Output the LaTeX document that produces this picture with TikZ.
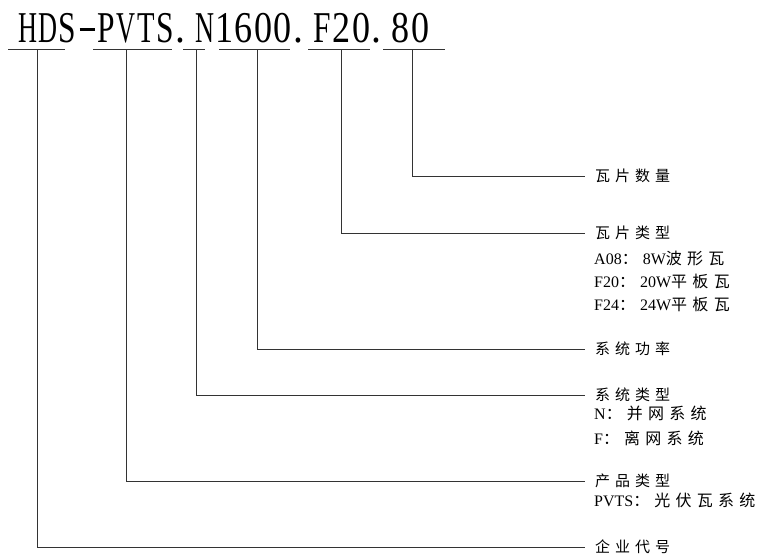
\documentclass[tikz,border=0pt]{standalone}
\usepackage{graphicx}
\usepackage{fontspec}
\setmainfont{Liberation Serif}
\newfontfamily\cjk{Noto Sans CJK SC}[LetterSpace=33]
\newfontfamily\ttlfont{Liberation Serif}
% title characters: monospaced cells of 19.6pt
\newcommand\tl[1]{\makebox[19.6pt][c]{\resizebox{19pt}{\height}{#1}}}
\newcommand\ts[1]{\makebox[19.6pt][c]{\resizebox{17.5pt}{\height}{#1}}}
\newcommand\tn[1]{\makebox[19.6pt][c]{\scalebox{0.82}[1]{#1}}}
\newcommand\tdot{\makebox[19.6pt][l]{\hspace{0.5pt}\scalebox{0.9}[1]{.}}}
\newcommand\tdash{\makebox[19.6pt][c]{\rule[11.5pt]{15pt}{2.6pt}}}
\newcommand\cc{{\cjk ：}\hspace{5pt}}
\tikzset{
  lnk/.style={draw=black!80, line width=1pt},
  head/.style={anchor=west, inner xsep=10pt, inner ysep=0pt, font=\fontsize{15}{15}\selectfont},
  sub/.style={anchor=west, inner sep=0pt, font=\fontsize{16}{16}\selectfont},
}
\begin{document}
\begin{tikzpicture}[x=1pt,y=-1pt]
\useasboundingbox (0,0) rectangle (767,557);
\node[anchor=base west, inner sep=0pt, font=\ttlfont\fontsize{44}{44}\selectfont] (title) at (18.2,42)
  {\tl{H}\tl{D}\ts{S}\tdash\ts{P}\tl{V}\ts{T}\ts{S}\tdot\tl{N}\tn{1}\tn{6}\tn{0}\tn{0}\tdot\ts{F}\tn{2}\tn{0}\tdot\tn{8}\tn{0}};
% underline segments
\coordinate (h1) at (8,49);   \coordinate (h2) at (65,49);
\coordinate (p1) at (93,49);  \coordinate (p2) at (172,49);
\coordinate (n1) at (183,49); \coordinate (n2) at (205,49);
\coordinate (w1) at (219,49); \coordinate (w2) at (290,49);
\coordinate (f1) at (308,49); \coordinate (f2) at (370,49);
\coordinate (e1) at (383,49); \coordinate (e2) at (445,49);
\draw[lnk] (h1) -- (h2);
\draw[lnk] (p1) -- (p2);
\draw[lnk] (n1) -- (n2);
\draw[lnk] (w1) -- (w2);
\draw[lnk] (f1) -- (f2);
\draw[lnk] (e1) -- (e2);
% drop points
\coordinate (hv) at (37,49);
\coordinate (pv) at (126,49);
\coordinate (nv) at (196,49);
\coordinate (wv) at (257,49);
\coordinate (fv) at (341,49);
\coordinate (ev) at (412,49);
% labels
\node[head] (lE) at (585,176) {\cjk 瓦片数量};
\node[head] (lF) at (585,233) {\cjk 瓦片类型};
\node[sub] (lF1) at (594,258) {A08\cc 8W{\cjk 波形瓦}};
\node[sub] (lF2) at (594,281) {F20\cc 20W{\cjk 平板瓦}};
\node[sub] (lF3) at (594,304) {F24\cc 24W{\cjk 平板瓦}};
\node[head] (lW) at (585,349) {\cjk 系统功率};
\node[head] (lN) at (585,395) {\cjk 系统类型};
\node[sub] (lN1) at (594,413) {N\cc{\cjk 并网系统}};
\node[sub] (lN2) at (594,438) {F\cc{\cjk 离网系统}};
\node[head] (lP) at (585,481) {\cjk 产品类型};
\node[sub] (lP1) at (594,500) {PVTS\cc{\cjk 光伏瓦系统}};
\node[head] (lH) at (585,547) {\cjk 企业代号};
% connectors
\draw[lnk] (ev) |- (lE.west);
\draw[lnk] (fv) |- (lF.west);
\draw[lnk] (wv) |- (lW.west);
\draw[lnk] (nv) |- (lN.west);
\draw[lnk] (pv) |- (lP.west);
\draw[lnk] (hv) |- (lH.west);
\end{tikzpicture}
\end{document}
